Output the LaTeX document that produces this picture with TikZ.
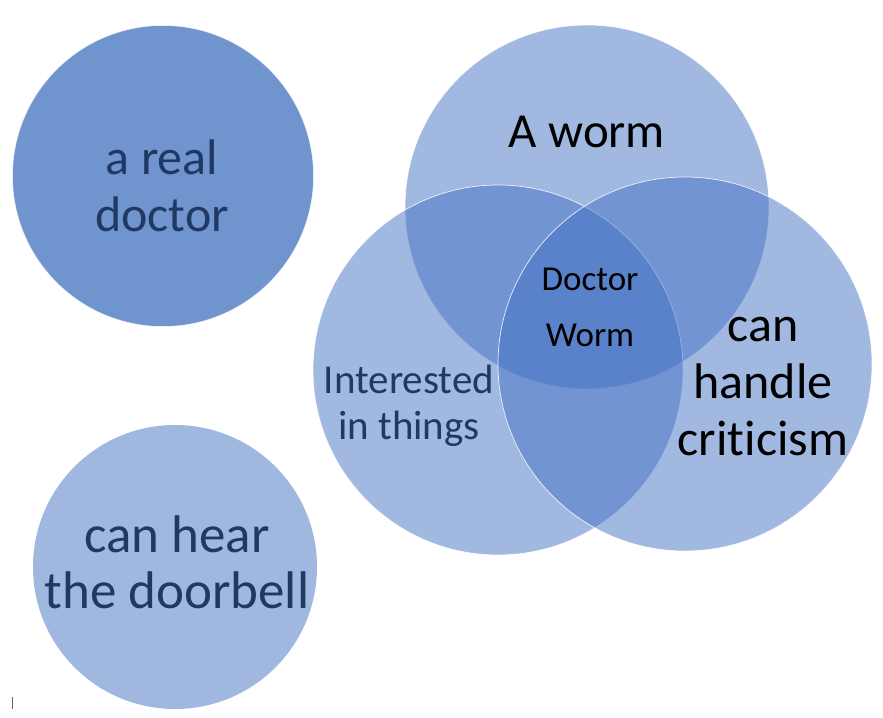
\documentclass[tikz,border=0pt]{standalone}
\usepackage{fontspec}
\setmainfont{Carlito}[Ligatures=NoCommon]
\definecolor{accent}{HTML}{4472C4}
\definecolor{navy}{HTML}{1F3864}
\definecolor{docfill}{HTML}{7094CD}
\definecolor{bellfill}{HTML}{A0B7E0}
\begin{document}
\begin{tikzpicture}[x=1bp,y=-1bp,
  venn/.style={circle, inner sep=0pt, fill=accent, fill opacity=0.5,
    draw=white, draw opacity=0.85, line width=0.7bp},
  solo/.style={circle, inner sep=0pt, draw=white, draw opacity=0.6, line width=0.7bp},
  lbl/.style={align=center, anchor=base, inner sep=0pt}]
\fill[white] (0,0) rectangle (883,718);
\useasboundingbox (0,0) rectangle (883,718);
% standalone circles
\node[solo, fill=docfill, minimum size=301bp] (doc) at (163,176) {};
\node[solo, fill=bellfill, draw=none, minimum size=284bp] (bell) at (175,567) {};
% Venn circles
\node[venn, minimum size=364bp] (worm) at (587,207) {};
\node[venn, minimum size=370bp] (inter) at (498,370) {};
\node[venn, minimum size=374bp] (crit) at (685,364) {};
% labels (anchor = baseline of the last line)
\node[lbl, text=navy, font=\fontsize{50bp}{56bp}\selectfont] (tdoc) at (162,231) {a real\\doctor};
\node[lbl, text=navy, font=\fontsize{53bp}{56bp}\selectfont] (tbell) at (177,608) {can hear\\the doorbell};
\node[lbl, text=black, font=\fontsize{49bp}{56bp}\selectfont] (tworm) at (587,148) {A worm};
\node[lbl, text=black, font=\fontsize{35bp}{56bp}\selectfont] (tdw) at (590,346) {Doctor\\Worm};
\node[lbl, text=navy, font=\fontsize{41bp}{46bp}\selectfont] (tint) at (409,439) {Interested\\in things};
\node[lbl, text=black, font=\fontsize{50bp}{57bp}\selectfont] (tcrit) at (763,455) {can\\handle\\criticism};
% text cursor mark
\draw[black!60, line width=0.8bp] (12,697) -- (12,709);
\end{tikzpicture}
\end{document}
